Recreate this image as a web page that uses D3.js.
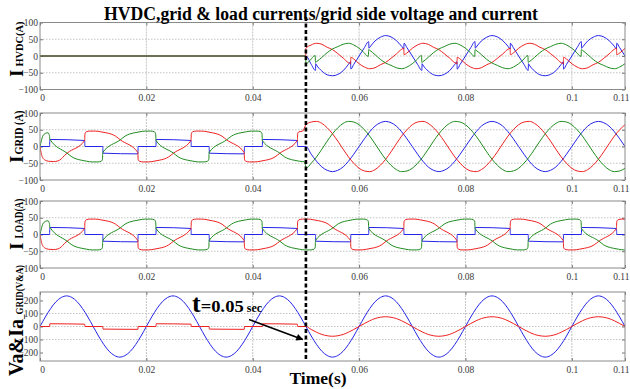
<!DOCTYPE html>
<html>
<head>
<meta charset="utf-8">
<script src="https://cdn.jsdelivr.net/npm/d3@7"></script>
<style>
  body { margin: 0; background: #fff; }
  svg { display: block; }
  text { font-family: "Liberation Serif", "Times New Roman", serif; }
</style>
</head>
<body>
<svg id="chart" width="630" height="389"></svg>
<script>
// ---- data (time in ms, currents in A, voltage in V) ----
const xTicks = [0, 0.02, 0.04, 0.06, 0.08, 0.1, 0.11];
const xTickLabels = ["0", "0.02", "0.04", "0.06", "0.08", "0.1", "0.11"];
const currentTicks = [100, 50, 0, -50, -100];
const voltageTicks = [200, 100, 0, -100, -200];

// load currents, phase a / b / c  [t, value]
const loadA = [[0,0],[1.8,0],[1.85,21],[8.4,18],[8.45,0],[11.8,0],[11.85,-20],[18.4,-22],[18.45,0],
  [21.8,0],[21.85,21],[28.4,18],[28.45,0],[31.8,0],[31.85,-20],[38.4,-22],[38.45,0],
  [41.8,0],[41.85,21],[48.4,18],[48.45,0],[51.8,0],[51.85,-20],[58.4,-22],[58.45,0],
  [61.8,0],[61.85,21],[68.4,18],[68.45,0],[71.8,0],[71.85,-20],[78.4,-22],[78.45,0],
  [81.8,0],[81.85,21],[88.4,18],[88.45,0],[91.8,0],[91.85,-20],[98.4,-22],[98.45,0],
  [101.8,0],[101.85,21],[108.4,18],[108.45,0],[110,0]];

const loadB = [[0,0],[0.2,-18],[0.5,-33],[1,-41],[1.6,-44],[2.5,-45],[3.4,-43],[4,-37],[4.6,-27],[5.1,-20],
  [8.4,18],[8.45,38],[8.7,44],[9.4,46],[10.4,46],[11.4,44],[12.4,41],[13.4,37],[14.2,31],[14.7,25],[15.1,20],
  [18.4,-18],[18.45,-38],[18.7,-44],[19.4,-46],[20.4,-46],[21.4,-44],[22.4,-41],[23.4,-37],[24.2,-31],[24.7,-25],[25.1,-20],
  [28.4,18],[28.45,38],[28.7,44],[29.4,46],[30.4,46],[31.4,44],[32.4,41],[33.4,37],[34.2,31],[34.7,25],[35.1,20],
  [38.4,-18],[38.45,-38],[38.7,-44],[39.4,-46],[40.4,-46],[41.4,-44],[42.4,-41],[43.4,-37],[44.2,-31],[44.7,-25],[45.1,-20],
  [48.4,18],[48.45,38],[48.7,44],[49.4,46],[50.4,46],[51.4,44],[52.4,41],[53.4,37],[54.2,31],[54.7,25],[55.1,20],
  [58.4,-18],[58.45,-38],[58.7,-44],[59.4,-46],[60.4,-46],[61.4,-44],[62.4,-41],[63.4,-37],[64.2,-31],[64.7,-25],[65.1,-20],
  [68.4,18],[68.45,38],[68.7,44],[69.4,46],[70.4,46],[71.4,44],[72.4,41],[73.4,37],[74.2,31],[74.7,25],[75.1,20],
  [78.4,-18],[78.45,-38],[78.7,-44],[79.4,-46],[80.4,-46],[81.4,-44],[82.4,-41],[83.4,-37],[84.2,-31],[84.7,-25],[85.1,-20],
  [88.4,18],[88.45,38],[88.7,44],[89.4,46],[90.4,46],[91.4,44],[92.4,41],[93.4,37],[94.2,31],[94.7,25],[95.1,20],
  [98.4,-18],[98.45,-38],[98.7,-44],[99.4,-46],[100.4,-46],[101.4,-44],[102.4,-41],[103.4,-37],[104.2,-31],[104.7,-25],[105.1,-20],
  [108.4,18],[108.45,38],[108.7,44],[109.4,46],[110,46]];

const loadC = [[0,0],[0.25,17],[0.55,32],[1,39],[1.5,41],[1.7,37],[1.8,30],[1.85,22],
  [5.1,-20],[5.5,-25],[6,-31],[6.8,-37],[7.8,-41],[8.8,-44],[9.8,-46],[10.8,-46],[11.5,-44],[11.75,-38],[11.8,-18],
  [15.1,20],[15.5,25],[16,31],[16.8,37],[17.8,41],[18.8,44],[19.8,46],[20.8,46],[21.5,44],[21.75,38],[21.8,18],
  [25.1,-20],[25.5,-25],[26,-31],[26.8,-37],[27.8,-41],[28.8,-44],[29.8,-46],[30.8,-46],[31.5,-44],[31.75,-38],[31.8,-18],
  [35.1,20],[35.5,25],[36,31],[36.8,37],[37.8,41],[38.8,44],[39.8,46],[40.8,46],[41.5,44],[41.75,38],[41.8,18],
  [45.1,-20],[45.5,-25],[46,-31],[46.8,-37],[47.8,-41],[48.8,-44],[49.8,-46],[50.8,-46],[51.5,-44],[51.75,-38],[51.8,-18],
  [55.1,20],[55.5,25],[56,31],[56.8,37],[57.8,41],[58.8,44],[59.8,46],[60.8,46],[61.5,44],[61.75,38],[61.8,18],
  [65.1,-20],[65.5,-25],[66,-31],[66.8,-37],[67.8,-41],[68.8,-44],[69.8,-46],[70.8,-46],[71.5,-44],[71.75,-38],[71.8,-18],
  [75.1,20],[75.5,25],[76,31],[76.8,37],[77.8,41],[78.8,44],[79.8,46],[80.8,46],[81.5,44],[81.75,38],[81.8,18],
  [85.1,-20],[85.5,-25],[86,-31],[86.8,-37],[87.8,-41],[88.8,-44],[89.8,-46],[90.8,-46],[91.5,-44],[91.75,-38],[91.8,-18],
  [95.1,20],[95.5,25],[96,31],[96.8,37],[97.8,41],[98.8,44],[99.8,46],[100.8,46],[101.5,44],[101.75,38],[101.8,18],
  [105.1,-20],[105.5,-25],[106,-31],[106.8,-37],[107.8,-41],[108.8,-44],[109.8,-46],[110,-46]];

// grid currents after t = 50 ms, one sample per ms
const gridAPost = [0,-23,-44,-61,-71,-75,-71,-61,-44,-23, 0,23,44,61,71,75,71,61,44,23,
  0,-23,-44,-61,-71,-75,-71,-61,-44,-23, 0,23,44,61,71,75,71,61,44,23,
  0,-23,-44,-61,-71,-75,-71,-61,-44,-23, 0,23,44,61,71,75,71,61,44,23, 0];
const gridBPost = [65,73,75,69,56,38,16,-8,-31,-50, -65,-73,-75,-69,-56,-38,-16,8,31,50,
  65,73,75,69,56,38,16,-8,-31,-50, -65,-73,-75,-69,-56,-38,-16,8,31,50,
  65,73,75,69,56,38,16,-8,-31,-50, -65,-73,-75,-69,-56,-38,-16,8,31,50, 65];
const gridCPost = [-65,-50,-31,-8,16,38,56,69,75,73, 65,50,31,8,-16,-38,-56,-69,-75,-73,
  -65,-50,-31,-8,16,38,56,69,75,73, 65,50,31,8,-16,-38,-56,-69,-75,-73,
  -65,-50,-31,-8,16,38,56,69,75,73, 65,50,31,8,-16,-38,-56,-69,-75,-73, -65];

// HVDC currents [t, value]
const hvdcA = [[0,0],[49.95,0],
  [50,0],[51,-25],[51.8,-43],[51.85,-23],[52,-27],[53,-45],[54,-56],[55,-59],[56,-55],[57,-44],[58,-25],[58.4,-17],[58.45,-39],[59,-25],
  [60,0],[61,25],[61.8,43],[61.85,23],[62,26],[63,45],[64,56],[65,61],[66,57],[67,46],[68,29],[68.4,21],[68.45,38],[69,25],
  [70,0],[71,-25],[71.8,-43],[71.85,-23],[72,-27],[73,-45],[74,-56],[75,-59],[76,-55],[77,-44],[78,-25],[78.4,-17],[78.45,-39],[79,-25],
  [80,0],[81,25],[81.8,43],[81.85,23],[82,26],[83,45],[84,56],[85,61],[86,57],[87,46],[88,29],[88.4,21],[88.45,38],[89,25],
  [90,0],[91,-25],[91.8,-43],[91.85,-23],[92,-27],[93,-45],[94,-56],[95,-59],[96,-55],[97,-44],[98,-25],[98.4,-17],[98.45,-39],[99,-25],
  [100,0],[101,25],[101.8,43],[101.85,23],[102,26],[103,45],[104,56],[105,61],[106,57],[107,46],[108,29],[108.4,21],[108.45,38],[109,25],[110,0]];

const hvdcB = [[0,0],[49.95,0],
  [50,23],[51,33],[52,38],[53,35],[54,26],[55,19],[56,7],[57,-6],[58,-20],[58.4,-23],[58.45,-4],[59,-9],
  [60,-23],[61,-33],[62,-38],[63,-35],[64,-26],[65,-19],[66,-7],[67,6],[68,20],[68.4,23],[68.45,4],[69,9],
  [70,23],[71,33],[72,38],[73,35],[74,26],[75,19],[76,7],[77,-6],[78,-20],[78.4,-23],[78.45,-4],[79,-9],
  [80,-23],[81,-33],[82,-38],[83,-35],[84,-26],[85,-19],[86,-7],[87,6],[88,20],[88.4,23],[88.45,4],[89,9],
  [90,23],[91,33],[92,38],[93,35],[94,26],[95,19],[96,7],[97,-6],[98,-20],[98.4,-23],[98.45,-4],[99,-9],
  [100,-23],[101,-33],[102,-38],[103,-35],[104,-26],[105,-19],[106,-7],[107,6],[108,20],[108.4,23],[108.45,4],[109,9],[110,23]];

const hvdcC = [[0,0],[49.95,0],
  [50,-23],[51,-9],[51.5,0],[51.75,1],[51.8,-19],[52,-17],[53,-4],[54,10],[55,21],[56,28],[57,35],[58,38],[59,33],
  [60,23],[61,9],[61.5,0],[61.75,-1],[61.8,19],[62,17],[63,4],[64,-10],[65,-21],[66,-28],[67,-35],[68,-38],[69,-33],
  [70,-23],[71,-9],[71.5,0],[71.75,1],[71.8,-19],[72,-17],[73,-4],[74,10],[75,21],[76,28],[77,35],[78,38],[79,33],
  [80,23],[81,9],[81.5,0],[81.75,-1],[81.8,19],[82,17],[83,4],[84,-10],[85,-21],[86,-28],[87,-35],[88,-38],[89,-33],
  [90,-23],[91,-9],[91.5,0],[91.75,1],[91.8,-19],[92,-17],[93,-4],[94,10],[95,21],[96,28],[97,35],[98,38],[99,33],
  [100,23],[101,9],[101.5,0],[101.75,-1],[101.8,19],[102,17],[103,4],[104,-10],[105,-21],[106,-28],[107,-35],[108,-38],[109,-33],[110,-23]];

// grid phase-a voltage, one sample per ms from 0
const vGridA = [0,73,138,190,223,235,223,190,138,73,0,-73,-138,-190,-223,-235,-223,-190,-138,-73,
  0,73,138,190,223,235,223,190,138,73,0,-73,-138,-190,-223,-235,-223,-190,-138,-73,
  0,73,138,190,223,235,223,190,138,73,0,-73,-138,-190,-223,-235,-223,-190,-138,-73,
  0,73,138,190,223,235,223,190,138,73,0,-73,-138,-190,-223,-235,-223,-190,-138,-73,
  0,73,138,190,223,235,223,190,138,73,0,-73,-138,-190,-223,-235,-223,-190,-138,-73,
  0,73,138,190,223,235,223,190,138,73,0];

// ---- helpers ----
const perMs = (vals, t0) => vals.map((v, i) => [t0 + i, v]);
const before50 = pts => pts.filter(d => d[0] < 50);

const RED = "#ee2020", GREEN = "#1f8c1f", BLUE = "#2525e8";

const svg = d3.select("#chart");
const x = d3.scaleLinear().domain([0, 0.11]).range([40, 625]);

const panels = [
  { top: 22.5, bottom: 89.5, domain: [-100, 100], ticks: currentTicks,
    series: [[hvdcA, BLUE], [hvdcB, RED], [hvdcC, GREEN]] },
  { top: 113, bottom: 180, domain: [-100, 100], ticks: currentTicks,
    series: [[before50(loadA).concat(perMs(gridAPost, 50)), BLUE],
             [before50(loadB).concat(perMs(gridBPost, 50)), RED],
             [before50(loadC).concat(perMs(gridCPost, 50)), GREEN]] },
  { top: 201, bottom: 268, domain: [-100, 100], ticks: currentTicks,
    series: [[loadA, BLUE], [loadB, RED], [loadC, GREEN]] },
  { top: 292, bottom: 361, domain: [-265, 265], ticks: voltageTicks,
    series: [[perMs(vGridA, 0), BLUE],
             [before50(loadA).concat(perMs(gridAPost, 50)), RED]] }
];

panels.forEach((p, i) => {
  const y = d3.scaleLinear().domain(p.domain).range([p.bottom, p.top]);
  p.y = y;
  const g = svg.append("g");

  // grid
  g.selectAll(".vg").data(xTicks.slice(1, -1)).enter().append("line")
    .attr("x1", d => x(d)).attr("x2", d => x(d))
    .attr("y1", p.top).attr("y2", p.bottom)
    .attr("stroke", "#c4c4c4").attr("stroke-dasharray", "2,1");
  g.selectAll(".hg").data(p.ticks.slice(1, -1)).enter().append("line")
    .attr("x1", 40).attr("x2", 625)
    .attr("y1", d => y(d)).attr("y2", d => y(d))
    .attr("stroke", "#c4c4c4").attr("stroke-dasharray", "1.5,1.5");

  // axes
  const yl = g.append("g").attr("transform", "translate(40,0)")
    .call(d3.axisLeft(y).tickValues(p.ticks).tickSizeInner(-3).tickSizeOuter(0).tickPadding(2));
  const yr = g.append("g").attr("transform", "translate(625,0)")
    .call(d3.axisRight(y).tickValues(p.ticks).tickSizeInner(-3).tickSizeOuter(0).tickFormat(""));
  const xb = g.append("g").attr("transform", `translate(0,${p.bottom})`)
    .call(d3.axisBottom(x).tickValues(xTicks).tickSizeInner(-3).tickSizeOuter(0).tickPadding(5)
      .tickFormat((d, k) => xTickLabels[k]));
  const xt = g.append("g").attr("transform", `translate(0,${p.top})`)
    .call(d3.axisTop(x).tickValues(xTicks).tickSizeInner(-3).tickSizeOuter(0).tickFormat(""));
  [yl, yr, xb, xt].forEach(a => {
    a.select(".domain").remove();
    a.selectAll("line").attr("stroke", "#777");
    a.selectAll("text").attr("fill", "#3a3a3a").style("font-size", "9.5px")
      .style("font-family", "'Liberation Serif', serif");
  });
  // keep the end labels inside the page
  xb.selectAll(".tick text").filter(d => d === 0).attr("dx", 2);
  xb.selectAll(".tick text").filter(d => d === 0.11).attr("text-anchor", "end").attr("dx", 4);

  // traces
  const clipId = "clip" + i;
  svg.append("clipPath").attr("id", clipId).append("rect")
    .attr("x", 40).attr("y", p.top).attr("width", 585).attr("height", p.bottom - p.top);
  const line = d3.line().x(d => x(d[0] / 1000)).y(d => y(d[1])).curve(d3.curveMonotoneX);
  g.append("g").attr("clip-path", `url(#${clipId})`)
    .selectAll("path").data(p.series).enter().append("path")
    .attr("d", d => line(d[0])).attr("fill", "none")
    .attr("stroke", d => d[1]).attr("stroke-width", 1);

  // frame
  g.append("rect").attr("x", 40).attr("y", p.top).attr("width", 585)
    .attr("height", p.bottom - p.top).attr("fill", "none").attr("stroke", "#8a8a8a");
});

// title
svg.append("text").attr("x", 321).attr("y", 20).attr("text-anchor", "middle")
  .attr("font-weight", "bold").attr("font-size", 18).attr("textLength", 434)
  .attr("lengthAdjust", "spacingAndGlyphs")
  .text("HVDC,grid & load currents/grid side voltage and current");

// y labels (rotated)
function yLabel(px, py, big, bigSize, sub, subSize, subLen, gap) {
  const t = svg.append("text").attr("transform", `translate(${px},${py}) rotate(-90)`)
    .attr("font-weight", "bold");
  t.append("tspan").attr("font-size", bigSize).text(big);
  t.append("tspan").attr("font-size", subSize).attr("dx", gap)
    .attr("textLength", subLen).attr("lengthAdjust", "spacingAndGlyphs").text(sub);
}
yLabel(23, 77, "I", 19, "HVDC(A)", 11, 45, 3);
yLabel(23, 163, "I", 19, "GRID (A)", 12.5, 44, 1);
yLabel(23, 250, "I", 19, "LOAD(A)", 11.5, 40, 4);
yLabel(23, 376, "Va&Ia", 20, "_GRID(V&A)", 10.5, 54, 0);

// x label
svg.append("text").attr("x", 318).attr("y", 384).attr("text-anchor", "middle")
  .attr("font-weight", "bold").attr("font-size", 17.5).text("Time(s)");

// event marker at t = 0.05 s
const p4 = panels[3];
svg.append("line").attr("x1", x(0.05)).attr("x2", x(0.05)).attr("y1", 17).attr("y2", 360)
  .attr("stroke", "#000").attr("stroke-width", 2.6).attr("stroke-dasharray", "4,2.5");

const ann = svg.append("text").attr("x", x(0.0286)).attr("y", p4.y(115))
  .attr("font-weight", "bold").attr("fill", "#000");
ann.append("tspan").attr("font-size", 26).text("t");
ann.append("tspan").attr("font-size", 16).attr("textLength", 43)
  .attr("lengthAdjust", "spacingAndGlyphs").text("=0.05");
ann.append("tspan").attr("font-size", 12).attr("dx", 3).text("sec");

svg.append("defs").append("marker").attr("id", "arrow")
  .attr("viewBox", "0 0 10 10").attr("refX", 9).attr("refY", 5)
  .attr("markerWidth", 9).attr("markerHeight", 7).attr("markerUnits", "userSpaceOnUse")
  .attr("orient", "auto")
  .append("path").attr("d", "M0,0L10,5L0,10z").attr("fill", "#000");
svg.append("line").attr("x1", x(0.0393)).attr("y1", p4.y(54))
  .attr("x2", x(0.0494)).attr("y2", p4.y(-100))
  .attr("stroke", "#000").attr("stroke-width", 1.5).attr("marker-end", "url(#arrow)");
</script>
</body>
</html>
